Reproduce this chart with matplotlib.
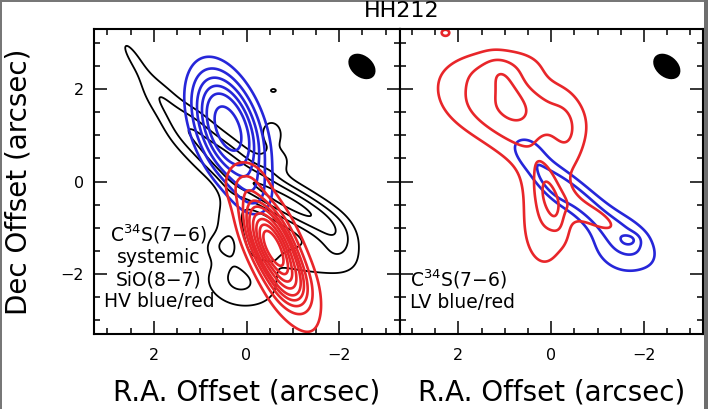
import numpy as np
import matplotlib
matplotlib.use("Agg")
import matplotlib.pyplot as plt
from matplotlib.patches import Ellipse, Rectangle
from matplotlib.ticker import MultipleLocator

# ---------------- data: emission components (x0, y0, sig_major, sig_minor, PA_deg, amp) -----------
c34s_systemic = [
    (2.45, 2.70, 0.50, 0.14, 57, 1.15),
    (1.85, 1.80, 0.45, 0.22, 50, 1.6),
    (1.25, 1.15, 0.45, 0.30, 42, 2.2),
    (0.60, 0.55, 0.50, 0.32, 35, 2.7),
    (-0.10, 0.00, 0.50, 0.30, 30, 2.6),
    (-0.80, -0.40, 0.50, 0.28, 28, 2.8),
    (-1.50, -0.80, 0.50, 0.27, 30, 2.8),
    (-2.00, -1.30, 0.40, 0.30, 60, 1.4),
    (-0.55, 1.05, 0.30, 0.25, 80, 1.3),
    (-0.70, 0.45, 0.25, 0.20, 0, 1.0),
    (0.10, -2.20, 0.60, 0.40, 10, 2.0),
    (0.35, -1.00, 0.60, 0.25, 85, 1.6),
    (-1.40, -1.70, 0.70, 0.30, 10, 1.3),
    (0.60, -1.40, 0.25, 0.20, 0, 1.0),
    (-0.58, 1.97, 0.10, 0.06, 0, 1.15),
]
sio_hv_blue = [
    (0.40, 1.15, 0.88, 0.44, 70, 8.2),
    (-0.15, -0.30, 0.40, 0.30, 68, 1.4),
]
sio_hv_red = [
    (-0.55, -1.38, 0.60, 0.24, 65, 11.0),
    (-0.95, -2.20, 0.40, 0.25, 65, 2.5),
    (-0.70, -1.60, 1.90, 0.55, 67, 2.2),
    (0.05, -0.05, 0.30, 0.30, 60, 1.0),
    (1.42, 3.36, 0.08, 0.06, 0, 1.8),
]
c34s_lv_red = [
    (0.90, 1.60, 1.05, 0.55, 15, 2.9),
    (1.10, 2.50, 0.70, 0.30, -5, 1.2),
    (0.95, 2.05, 0.45, 0.20, 65, 0.8),
    (-0.35, 0.95, 0.60, 0.25, 85, 1.0),
    (0.50, 0.50, 0.70, 0.35, 40, 0.9),
    (0.20, -1.10, 0.75, 0.40, 85, 1.4),
    (0.05, -0.40, 0.55, 0.30, 70, 1.4),
    (0.00, -0.40, 0.45, 0.12, 75, 1.1),
    (-0.90, -0.75, 0.60, 0.20, 30, 1.3),
    (2.28, 3.22, 0.10, 0.08, 0, 1.3),
]
c34s_lv_blue = [
    (-0.50, -0.30, 1.00, 0.22, 40, 2.6),
    (-1.55, -1.40, 0.55, 0.45, 30, 1.8),
    (0.00, -0.15, 0.35, 0.12, 45, 1.0),
    (-1.70, -1.26, 0.15, 0.10, 0, 0.9),
    (0.45, 0.70, 0.30, 0.22, 50, 0.8),
]
levels_sys = [1, 2, 3, 4]
levels_hv = [1.5, 2.5, 3.5, 4.5, 5.5, 7, 8.5, 10, 11.5]
levels_lv = [1, 2, 3]

beam = (-2.49, 2.49, 0.66, 0.46, 40)   # x, y, major, minor, angle
title = "HH212"
xlabel = "R.A. Offset (arcsec)"
ylabel = "Dec Offset (arcsec)"
left_text = ["C$^{34}$S(7\u22126)", "systemic", "SiO(8\u22127)", "HV blue/red"]
right_text = ["C$^{34}$S(7\u22126)", "LV blue/red"]

BLUE = "#2626d9"
RED = "#e8262a"

# ---------------- helpers -----------------
g = np.linspace(-3.7, 3.7, 371)
X, Y = np.meshgrid(g, g)


def field(comps):
    f = np.zeros_like(X)
    for x0, y0, sa, sb, pa, a in comps:
        t = np.deg2rad(pa)
        dx, dy = X - x0, Y - y0
        u = dx * np.cos(t) + dy * np.sin(t)
        v = -dx * np.sin(t) + dy * np.cos(t)
        f += a * np.exp(-0.5 * ((u / sa) ** 2 + (v / sb) ** 2))
    return f


plt.rcParams["font.family"] = ["DejaVu Sans"]
plt.rcParams["mathtext.fontset"] = "dejavusans"

W, H = 708, 409
fig = plt.figure(figsize=(W / 100, H / 100), dpi=100)
axL = fig.add_axes([93.5 / W, (H - 334) / H, 306 / W, 305 / H])
axR = fig.add_axes([399.5 / W, (H - 334) / H, 303.5 / W, 305 / H])

for ax, xl in ((axL, 3.3), (axR, 3.27)):
    ax.set_xlim(xl, -xl)
    ax.set_ylim(-3.3, 3.3)
    ax.xaxis.set_major_locator(MultipleLocator(2))
    ax.yaxis.set_major_locator(MultipleLocator(2))
    ax.xaxis.set_minor_locator(MultipleLocator(0.5))
    ax.yaxis.set_minor_locator(MultipleLocator(0.5))
    ax.tick_params(which="both", direction="in", top=True, right=True,
                   width=1.1, color="black")
    ax.tick_params(which="major", length=9.5)
    ax.tick_params(which="minor", length=4.5)
    ax.tick_params(axis="x", which="major", pad=10, labelsize=11.5)
    ax.tick_params(axis="y", which="major", pad=7, labelsize=11.5)
    for s in ax.spines.values():
        s.set_linewidth(1.5)
    ax.set_xticks([2, 0, -2])
    ax.set_xticklabels(["2", "0", "\u22122"])
    ax.set_xlabel(xlabel, fontsize=20, labelpad=11)
    ax.add_patch(Ellipse((beam[0], beam[1]), beam[2], beam[3], angle=beam[4],
                         facecolor="black", edgecolor="none", zorder=5))

axL.set_yticks([2, 0, -2])
axL.set_yticklabels(["2", "0", "\u22122"])
axR.tick_params(axis="y", labelleft=False)
axL.set_ylabel(ylabel, fontsize=20, labelpad=20)

# left panel
axL.contour(X, Y, field(c34s_systemic), levels=levels_sys, colors="black", linewidths=1.3)
axL.contour(X, Y, field(sio_hv_blue), levels=levels_hv, colors=BLUE, linewidths=1.9)
axL.contour(X, Y, field(sio_hv_red), levels=levels_hv, colors=RED, linewidths=1.9)

# right panel
axR.contour(X, Y, field(c34s_lv_blue), levels=levels_lv, colors=BLUE, linewidths=1.9)
axR.contour(X, Y, field(c34s_lv_red), levels=levels_lv, colors=RED, linewidths=1.9)

# annotations
for i, t in enumerate(left_text):
    axL.text(1.89, [-1.29, -1.76, -2.24, -2.72][i], t, ha="center", va="baseline",
             fontsize=13.5)
for i, t in enumerate(right_text):
    axR.text(3.05, [-2.27, -2.73][i], t, ha="left", va="baseline", fontsize=13.5)

fig.text(402 / W, 1 - 11 / H, title, ha="center", va="center", fontsize=16)

# figure frame
fig.add_artist(Rectangle((0, 0), 1.5 / W, 1, transform=fig.transFigure,
                         facecolor="#777777", edgecolor="none"))
fig.add_artist(Rectangle((0, 1 - 1.5 / H), 1, 1.5 / H, transform=fig.transFigure,
                         facecolor="#777777", edgecolor="none"))
fig.add_artist(Rectangle((704 / W, 0), 4 / W, 1, transform=fig.transFigure,
                         facecolor="#6e6e6e", edgecolor="none"))

fig.savefig("out.png", dpi=100)
